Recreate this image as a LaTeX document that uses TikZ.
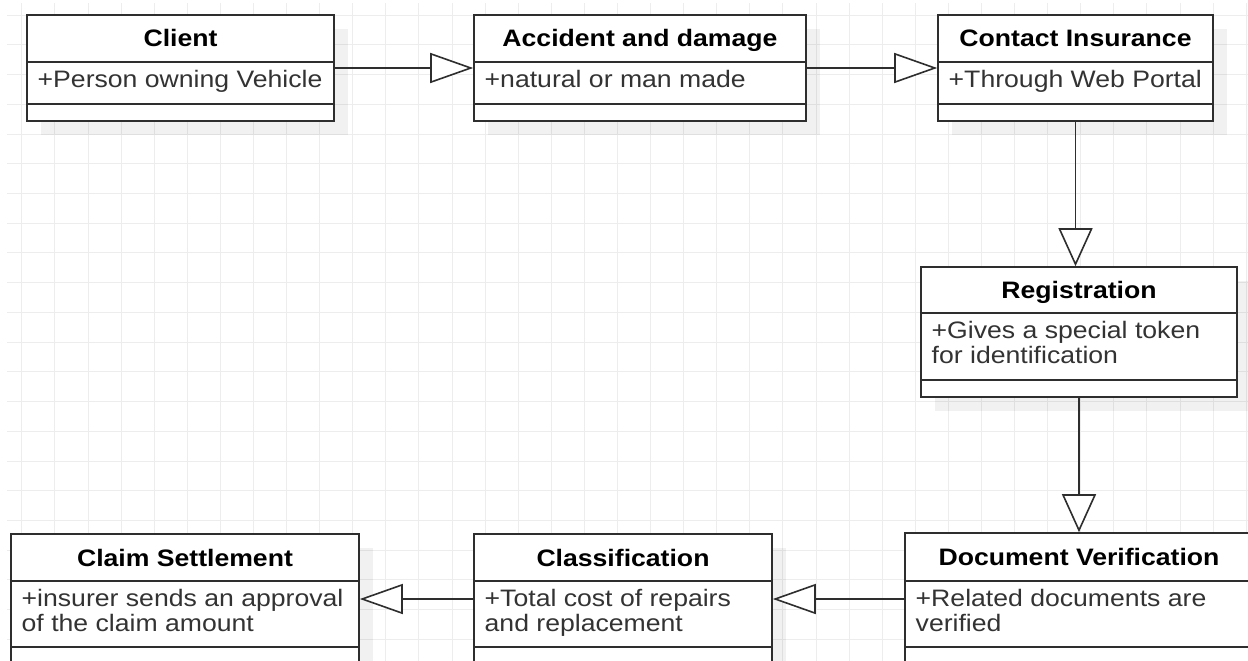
\documentclass[tikz,border=0pt]{standalone}
\usepackage{fontspec}
\setmainfont{Liberation Sans}[FakeStretch=1.118]
\usetikzlibrary{arrows.meta}
\definecolor{linec}{HTML}{2E2E2E}
\definecolor{attrc}{HTML}{333333}
\definecolor{gridc}{HTML}{EDEDED}
\tikzset{
  umlbox/.style={draw=linec, line width=1.6pt, fill=white, inner sep=0pt, outer sep=0.8pt},
  umlsep/.style={draw=linec, line width=1.6pt},
  shadowbox/.style={fill=black, fill opacity=0.055},
  titletext/.style={anchor=base, inner sep=0pt, font=\fontsize{23.8}{25}\selectfont\bfseries, text=black},
  attrtext/.style={anchor=base west, inner sep=0pt, font=\fontsize{23.8}{25}\selectfont, text=attrc},
  genh/.style={draw=linec, line width=1.6pt, -{Triangle[fill=white, length=43pt, width=30pt]}},
  genv/.style={draw=linec, line width=1.6pt, -{Triangle[fill=white, length=38pt, width=34pt]}},
  gridline/.style={draw=gridc, line width=1pt}
}
% name, x1, y1, x2, y2, sep1, sep2, title, attribute
\newcommand\umlclass[9]{%
  \fill[shadowbox] ({#2+14},{#3+14}) rectangle ({#4+14},{#5+14});
  \node[umlbox, minimum width={#4-#2}, minimum height={#5-#3}] (#1) at ({(#2+#4)/2},{(#3+#5)/2}) {};
  \draw[umlsep] (#2,#6) -- (#4,#6);
  \draw[umlsep] (#2,#7) -- (#4,#7);
  \node[titletext] (#1-title) at ({(#2+#4)/2},{(#3+#6)/2+8.5}) {#8};
  \node[attrtext] (#1-attr) at ({#2+10.5},{#6+25.5}) {\parbox[t]{400pt}{\raggedright #9}};
}
\begin{document}
\begin{tikzpicture}[x=1pt, y=-1pt]
\useasboundingbox (0,0) rectangle (1248,661);
\fill[white] (0,0) rectangle (1248,661);
\clip (0,0) rectangle (1248,661);
% grid
\foreach \k in {0,...,37} {
  \draw[gridline] ({21.9+33.09*\k},3) -- ({21.9+33.09*\k},661);
}
\foreach \k in {0,...,21} {
  \draw[gridline] (7,{15.2+29.72*\k}) -- (1248,{15.2+29.72*\k});
}
% classes
\umlclass{client}{27}{15}{334}{121}{62}{104}{Client}{+Person owning Vehicle}
\umlclass{accident}{474}{15}{806}{121}{62}{104}{Accident and damage}{+natural or man made}
\umlclass{contact}{938}{15}{1213}{121}{62}{104}{Contact Insurance}{+Through Web Portal}
\umlclass{registration}{921}{267}{1237}{397}{313}{380}{Registration}{+Gives a special token\\for identification}
\umlclass{docver}{905}{533}{1253}{665}{581}{647}{Document Verification}{+Related documents are\\verified}
\umlclass{classif}{474}{534}{772}{664}{581}{647}{Classification}{+Total cost of repairs\\and replacement}
\umlclass{claim}{11}{534}{359}{664}{581}{647}{Claim Settlement}{+insurer sends an approval\\of the claim amount}
% connectors
\draw[genh] (client.east) -- (accident.west);
\draw[genh] (accident.east) -- (contact.west);
\draw[genv] (contact.south) -- (contact.south |- registration.north);
\draw[genv] (registration.south) -- (docver.north);
\draw[genh] (docver.west) -- (classif.east);
\draw[genh] (classif.west) -- (claim.east);
\end{tikzpicture}
\end{document}
